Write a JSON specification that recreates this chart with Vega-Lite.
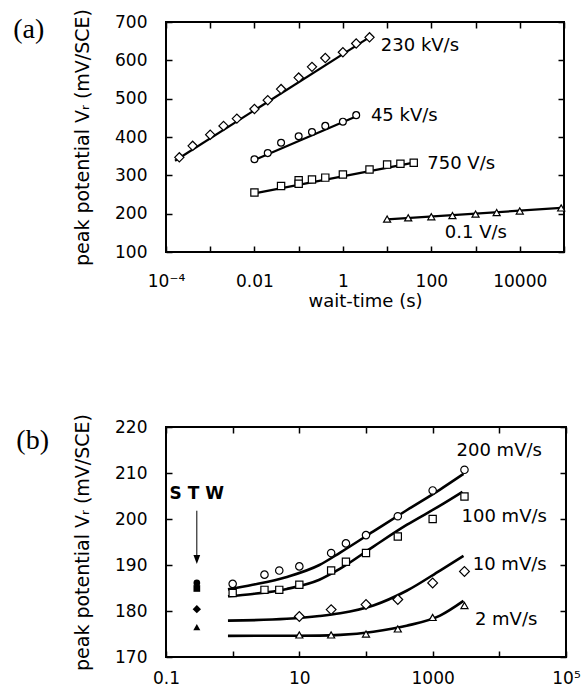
{
  "$schema": "https://vega.github.io/schema/vega-lite/v6.json",
  "background": "white",
  "padding": {"left": 12, "top": 7, "right": 5, "bottom": 0},
  "spacing": 101,
  "config": {
    "font": "DejaVu Sans",
    "view": {"stroke": "black", "strokeWidth": 2},
    "axis": {
      "domain": false, "grid": false, "ticks": true, "tickSize": -6, "tickWidth": 1.5, "tickColor": "black",
      "labelColor": "black", "labelFont": "DejaVu Sans", "labelFontSize": 17,
      "titleFont": "DejaVu Sans", "titleFontSize": 18, "titleFontWeight": "normal", "titleColor": "black",
      "labelFlush": false, "labelOverlap": false
    },
    "text": {"font": "DejaVu Sans", "fontSize": 18, "color": "black"}
  },
  "resolve": {"scale": {"shape": "independent", "size": "independent"}},
  "datasets": {
    "a_pts": [
      {"series": "230 kV/s", "t": 0.0002, "v": 347},
      {"series": "230 kV/s", "t": 0.0004, "v": 377},
      {"series": "230 kV/s", "t": 0.001, "v": 406},
      {"series": "230 kV/s", "t": 0.002, "v": 429},
      {"series": "230 kV/s", "t": 0.004, "v": 448},
      {"series": "230 kV/s", "t": 0.01, "v": 473},
      {"series": "230 kV/s", "t": 0.02, "v": 496},
      {"series": "230 kV/s", "t": 0.04, "v": 525},
      {"series": "230 kV/s", "t": 0.1, "v": 555},
      {"series": "230 kV/s", "t": 0.2, "v": 583},
      {"series": "230 kV/s", "t": 0.4, "v": 606},
      {"series": "230 kV/s", "t": 1, "v": 621},
      {"series": "230 kV/s", "t": 2, "v": 644},
      {"series": "230 kV/s", "t": 4, "v": 660},
      {"series": "45 kV/s", "t": 0.01, "v": 342},
      {"series": "45 kV/s", "t": 0.02, "v": 358},
      {"series": "45 kV/s", "t": 0.04, "v": 385},
      {"series": "45 kV/s", "t": 0.1, "v": 402},
      {"series": "45 kV/s", "t": 0.2, "v": 413},
      {"series": "45 kV/s", "t": 0.4, "v": 429},
      {"series": "45 kV/s", "t": 1, "v": 440},
      {"series": "45 kV/s", "t": 2, "v": 457},
      {"series": "750 V/s", "t": 0.01, "v": 255},
      {"series": "750 V/s", "t": 0.04, "v": 272},
      {"series": "750 V/s", "t": 0.1, "v": 287},
      {"series": "750 V/s", "t": 0.1, "v": 278},
      {"series": "750 V/s", "t": 0.2, "v": 289},
      {"series": "750 V/s", "t": 0.4, "v": 294},
      {"series": "750 V/s", "t": 1, "v": 302},
      {"series": "750 V/s", "t": 4, "v": 315},
      {"series": "750 V/s", "t": 10, "v": 328},
      {"series": "750 V/s", "t": 20, "v": 330},
      {"series": "750 V/s", "t": 40, "v": 333},
      {"series": "0.1 V/s", "t": 10, "v": 186},
      {"series": "0.1 V/s", "t": 30, "v": 189},
      {"series": "0.1 V/s", "t": 100, "v": 192},
      {"series": "0.1 V/s", "t": 300, "v": 195},
      {"series": "0.1 V/s", "t": 1000, "v": 199},
      {"series": "0.1 V/s", "t": 3000, "v": 203},
      {"series": "0.1 V/s", "t": 10000, "v": 207},
      {"series": "0.1 V/s", "t": 86400, "v": 215}
    ],
    "a_fit": [
      {"series": "230 kV/s", "t": 0.00016, "v": 338},
      {"series": "230 kV/s", "t": 4.2, "v": 662},
      {"series": "45 kV/s", "t": 0.01, "v": 340},
      {"series": "45 kV/s", "t": 2.1, "v": 455},
      {"series": "750 V/s", "t": 0.01, "v": 253},
      {"series": "750 V/s", "t": 40, "v": 333},
      {"series": "0.1 V/s", "t": 10, "v": 185},
      {"series": "0.1 V/s", "t": 86400, "v": 215}
    ],
    "a_lab": [
      {"label": "230 kV/s", "t": 7.2, "v": 637},
      {"label": "45 kV/s", "t": 4.3, "v": 455},
      {"label": "750 V/s", "t": 81, "v": 330},
      {"label": "0.1 V/s", "t": 202, "v": 149}
    ],
    "a_tag": [{"label": "(a)", "t": 0.000000079, "v": 679}],
    "b_pts": [
      {"series": "200 mV/s", "t": 1, "v": 185.9},
      {"series": "200 mV/s", "t": 3, "v": 187.9},
      {"series": "200 mV/s", "t": 5, "v": 188.8},
      {"series": "200 mV/s", "t": 10, "v": 189.7},
      {"series": "200 mV/s", "t": 30, "v": 192.6},
      {"series": "200 mV/s", "t": 50, "v": 194.7},
      {"series": "200 mV/s", "t": 100, "v": 196.5},
      {"series": "200 mV/s", "t": 300, "v": 200.6},
      {"series": "200 mV/s", "t": 1000, "v": 206.2},
      {"series": "200 mV/s", "t": 3000, "v": 210.7},
      {"series": "100 mV/s", "t": 1, "v": 183.9},
      {"series": "100 mV/s", "t": 3, "v": 184.6},
      {"series": "100 mV/s", "t": 5, "v": 184.6},
      {"series": "100 mV/s", "t": 10, "v": 185.7},
      {"series": "100 mV/s", "t": 30, "v": 188.8},
      {"series": "100 mV/s", "t": 50, "v": 190.7},
      {"series": "100 mV/s", "t": 100, "v": 192.6},
      {"series": "100 mV/s", "t": 300, "v": 196.2},
      {"series": "100 mV/s", "t": 1000, "v": 200.0},
      {"series": "100 mV/s", "t": 3000, "v": 204.9},
      {"series": "10 mV/s", "t": 10, "v": 178.8},
      {"series": "10 mV/s", "t": 30, "v": 180.3},
      {"series": "10 mV/s", "t": 100, "v": 181.4},
      {"series": "10 mV/s", "t": 300, "v": 182.5},
      {"series": "10 mV/s", "t": 1000, "v": 186.1},
      {"series": "10 mV/s", "t": 3000, "v": 188.6},
      {"series": "2 mV/s", "t": 10, "v": 174.8},
      {"series": "2 mV/s", "t": 30, "v": 174.8},
      {"series": "2 mV/s", "t": 100, "v": 175.0},
      {"series": "2 mV/s", "t": 300, "v": 176.1},
      {"series": "2 mV/s", "t": 1000, "v": 178.6},
      {"series": "2 mV/s", "t": 3000, "v": 181.2}
    ],
    "b_fit": [
      {"series": "200 mV/s", "t": 0.85, "v": 184.7},
      {"series": "200 mV/s", "t": 2, "v": 185.7},
      {"series": "200 mV/s", "t": 6.5, "v": 187.4},
      {"series": "200 mV/s", "t": 20, "v": 190.0},
      {"series": "200 mV/s", "t": 41, "v": 192.7},
      {"series": "200 mV/s", "t": 129, "v": 197.3},
      {"series": "200 mV/s", "t": 407, "v": 201.9},
      {"series": "200 mV/s", "t": 1290, "v": 206.4},
      {"series": "200 mV/s", "t": 2900, "v": 209.8},
      {"series": "100 mV/s", "t": 0.85, "v": 183.2},
      {"series": "100 mV/s", "t": 2, "v": 183.7},
      {"series": "100 mV/s", "t": 6.5, "v": 184.8},
      {"series": "100 mV/s", "t": 20, "v": 186.8},
      {"series": "100 mV/s", "t": 41, "v": 189.2},
      {"series": "100 mV/s", "t": 129, "v": 194.0},
      {"series": "100 mV/s", "t": 407, "v": 198.7},
      {"series": "100 mV/s", "t": 1290, "v": 202.9},
      {"series": "100 mV/s", "t": 2800, "v": 205.9},
      {"series": "10 mV/s", "t": 0.85, "v": 177.9},
      {"series": "10 mV/s", "t": 6.5, "v": 178.3},
      {"series": "10 mV/s", "t": 20, "v": 178.9},
      {"series": "10 mV/s", "t": 41, "v": 179.5},
      {"series": "10 mV/s", "t": 129, "v": 181.2},
      {"series": "10 mV/s", "t": 407, "v": 184.4},
      {"series": "10 mV/s", "t": 1290, "v": 188.8},
      {"series": "10 mV/s", "t": 2900, "v": 192.0},
      {"series": "2 mV/s", "t": 0.85, "v": 174.6},
      {"series": "2 mV/s", "t": 20, "v": 174.65},
      {"series": "2 mV/s", "t": 41, "v": 174.8},
      {"series": "2 mV/s", "t": 129, "v": 175.5},
      {"series": "2 mV/s", "t": 407, "v": 176.8},
      {"series": "2 mV/s", "t": 1290, "v": 179.0},
      {"series": "2 mV/s", "t": 2900, "v": 182.2}
    ],
    "b_stw": [
      {"series": "STW 200 mV/s", "t": 0.29, "v": 186.1},
      {"series": "STW 100 mV/s", "t": 0.29, "v": 184.9},
      {"series": "STW 10 mV/s", "t": 0.29, "v": 180.4},
      {"series": "STW 2 mV/s", "t": 0.29, "v": 176.5}
    ],
    "b_arrow": [{"t": 0.29, "v1": 201.8, "v2": 192.0, "tip": 191.2}],
    "b_lab": [
      {"label": "200 mV/s", "t": 2280, "v": 214.85},
      {"label": "100 mV/s", "t": 2710, "v": 200.5},
      {"label": "10 mV/s", "t": 3990, "v": 190.1},
      {"label": "2 mV/s", "t": 4300, "v": 178.1}
    ],
    "b_stwlab": [{"label": "S T W", "t": 0.29, "v": 205.4}],
    "b_tag": [{"label": "(b)", "t": 0.001, "v": 216.96}]
  },
  "vconcat": [
    {
      "width": 398,
      "height": 230,
      "layer": [
        {
          "data": {"name": "a_fit"},
          "mark": {"type": "line", "color": "black", "strokeWidth": 2.2},
          "encoding": {
            "x": {
              "field": "t", "type": "quantitative",
              "scale": {"type": "log", "domain": [0.0001, 100000], "nice": false},
              "axis": {
                "orient": "bottom",
                "values": [0.0001, 0.001, 0.01, 0.1, 1, 10, 100, 1000, 10000, 100000],
                "labelExpr": "round(log(datum.value)/LN10) == -4 ? '10⁻⁴' : round(log(datum.value)/LN10) == -2 ? '0.01' : round(log(datum.value)/LN10) == 0 ? '1' : round(log(datum.value)/LN10) == 2 ? '100' : round(log(datum.value)/LN10) == 4 ? '10000' : ''",
                "title": "wait-time (s)", "labelPadding": 27, "titlePadding": 3
              }
            },
            "y": {
              "field": "v", "type": "quantitative",
              "scale": {"domain": [100, 700], "nice": false, "zero": false},
              "axis": {
                "orient": "left",
                "values": [100, 200, 300, 400, 500, 600, 700],
                "title": "peak potential Vᵣ (mV/SCE)", "titleFontSize": 19,
                "labelPadding": 25, "titlePadding": 22
              }
            },
            "detail": {"field": "series"}
          }
        },
        {
          "data": {"name": "a_pts"},
          "mark": {"type": "point", "filled": true, "fill": "white", "stroke": "black", "strokeWidth": 1.2, "opacity": 1},
          "encoding": {
            "x": {
              "field": "t", "type": "quantitative",
              "axis": {"orient": "top", "values": [0.0001, 0.001, 0.01, 0.1, 1, 10, 100, 1000, 10000, 100000], "labels": false, "title": null}
            },
            "y": {
              "field": "v", "type": "quantitative",
              "axis": {"orient": "right", "values": [100, 200, 300, 400, 500, 600, 700], "labels": false, "title": null}
            },
            "shape": {
              "field": "series", "type": "nominal",
              "scale": {"domain": ["230 kV/s", "45 kV/s", "750 V/s", "0.1 V/s"], "range": ["diamond", "circle", "square", "triangle-up"]},
              "legend": null
            },
            "size": {
              "field": "series", "type": "nominal",
              "scale": {"type": "ordinal", "domain": ["230 kV/s", "45 kV/s", "750 V/s", "0.1 V/s"], "range": [85, 47, 53, 50]},
              "legend": null
            }
          }
        },
        {
          "data": {"name": "a_lab"},
          "mark": {"type": "text", "align": "left", "baseline": "middle", "fontSize": 18},
          "encoding": {
            "x": {"field": "t", "type": "quantitative", "axis": null},
            "y": {"field": "v", "type": "quantitative", "axis": null},
            "text": {"field": "label"}
          }
        },
        {
          "data": {"name": "a_tag"},
          "mark": {"type": "text", "align": "center", "baseline": "middle", "font": "Liberation Serif", "fontSize": 28},
          "encoding": {
            "x": {"field": "t", "type": "quantitative", "axis": null},
            "y": {"field": "v", "type": "quantitative", "axis": null},
            "text": {"field": "label"}
          }
        }
      ],
      "resolve": {"axis": {"x": "independent", "y": "independent"}}
    },
    {
      "width": 400,
      "height": 230,
      "layer": [
        {
          "data": {"name": "b_fit"},
          "mark": {"type": "line", "color": "black", "strokeWidth": 2.6, "interpolate": "monotone"},
          "encoding": {
            "x": {
              "field": "t", "type": "quantitative",
              "scale": {"type": "log", "domain": [0.1, 100000], "nice": false},
              "axis": {
                "orient": "bottom",
                "values": [0.1, 1, 10, 100, 1000, 10000, 100000],
                "labelExpr": "round(log(datum.value)/LN10) == -1 ? '0.1' : round(log(datum.value)/LN10) == 1 ? '10' : round(log(datum.value)/LN10) == 3 ? '1000' : round(log(datum.value)/LN10) == 5 ? '10⁵' : ''",
                "title": null, "labelPadding": 19
              }
            },
            "y": {
              "field": "v", "type": "quantitative",
              "scale": {"domain": [170, 220], "nice": false, "zero": false},
              "axis": {
                "orient": "left",
                "values": [170, 180, 190, 200, 210, 220],
                "title": "peak potential Vᵣ (mV/SCE)", "titleFontSize": 19,
                "labelPadding": 25, "titlePadding": 22
              }
            },
            "detail": {"field": "series"}
          }
        },
        {
          "data": {"name": "b_pts"},
          "mark": {"type": "point", "filled": true, "fill": "white", "stroke": "black", "strokeWidth": 1.2, "opacity": 1},
          "encoding": {
            "x": {
              "field": "t", "type": "quantitative",
              "axis": {"orient": "top", "values": [0.1, 1, 10, 100, 1000, 10000, 100000], "labels": false, "title": null}
            },
            "y": {
              "field": "v", "type": "quantitative",
              "axis": {"orient": "right", "values": [170, 180, 190, 200, 210, 220], "labels": false, "title": null}
            },
            "shape": {
              "field": "series", "type": "nominal",
              "scale": {"domain": ["200 mV/s", "100 mV/s", "10 mV/s", "2 mV/s", "STW 200 mV/s", "STW 100 mV/s", "STW 10 mV/s", "STW 2 mV/s"], "range": ["circle", "square", "diamond", "triangle-up", "circle", "square", "diamond", "triangle-up"]},
              "legend": null
            },
            "size": {
              "field": "series", "type": "nominal",
              "scale": {"type": "ordinal", "domain": ["200 mV/s", "100 mV/s", "10 mV/s", "2 mV/s", "STW 200 mV/s", "STW 100 mV/s", "STW 10 mV/s", "STW 2 mV/s"], "range": [55, 52, 95, 50, 45, 45, 70, 50]},
              "legend": null
            }
          }
        },
        {
          "data": {"name": "b_stw"},
          "mark": {"type": "point", "filled": true, "color": "black", "opacity": 1},
          "encoding": {
            "x": {"field": "t", "type": "quantitative", "axis": null},
            "y": {"field": "v", "type": "quantitative", "axis": null},
            "shape": {
              "field": "series", "type": "nominal",
              "scale": {"domain": ["200 mV/s", "100 mV/s", "10 mV/s", "2 mV/s", "STW 200 mV/s", "STW 100 mV/s", "STW 10 mV/s", "STW 2 mV/s"], "range": ["circle", "square", "diamond", "triangle-up", "circle", "square", "diamond", "triangle-up"]},
              "legend": null
            },
            "size": {
              "field": "series", "type": "nominal",
              "scale": {"type": "ordinal", "domain": ["200 mV/s", "100 mV/s", "10 mV/s", "2 mV/s", "STW 200 mV/s", "STW 100 mV/s", "STW 10 mV/s", "STW 2 mV/s"], "range": [55, 52, 95, 50, 45, 45, 70, 50]},
              "legend": null
            }
          }
        },
        {
          "data": {"name": "b_arrow"},
          "mark": {"type": "rule", "color": "black", "strokeWidth": 1},
          "encoding": {
            "x": {"field": "t", "type": "quantitative", "axis": null},
            "y": {"field": "v1", "type": "quantitative", "axis": null},
            "y2": {"field": "v2"}
          }
        },
        {
          "data": {"name": "b_arrow"},
          "mark": {"type": "point", "filled": true, "color": "black", "opacity": 1, "shape": "M-0.75,-1L0.75,-1L0,1Z", "size": 81},
          "encoding": {
            "x": {"field": "t", "type": "quantitative", "axis": null},
            "y": {"field": "tip", "type": "quantitative", "axis": null}
          }
        },
        {
          "data": {"name": "b_lab"},
          "mark": {"type": "text", "align": "left", "baseline": "middle", "fontSize": 18},
          "encoding": {
            "x": {"field": "t", "type": "quantitative", "axis": null},
            "y": {"field": "v", "type": "quantitative", "axis": null},
            "text": {"field": "label"}
          }
        },
        {
          "data": {"name": "b_stwlab"},
          "mark": {"type": "text", "align": "center", "baseline": "middle", "fontSize": 17, "fontWeight": "bold"},
          "encoding": {
            "x": {"field": "t", "type": "quantitative", "axis": null},
            "y": {"field": "v", "type": "quantitative", "axis": null},
            "text": {"field": "label"}
          }
        },
        {
          "data": {"name": "b_tag"},
          "mark": {"type": "text", "align": "center", "baseline": "middle", "font": "Liberation Serif", "fontSize": 28},
          "encoding": {
            "x": {"field": "t", "type": "quantitative", "axis": null},
            "y": {"field": "v", "type": "quantitative", "axis": null},
            "text": {"field": "label"}
          }
        }
      ],
      "resolve": {"axis": {"x": "independent", "y": "independent"}}
    }
  ]
}
